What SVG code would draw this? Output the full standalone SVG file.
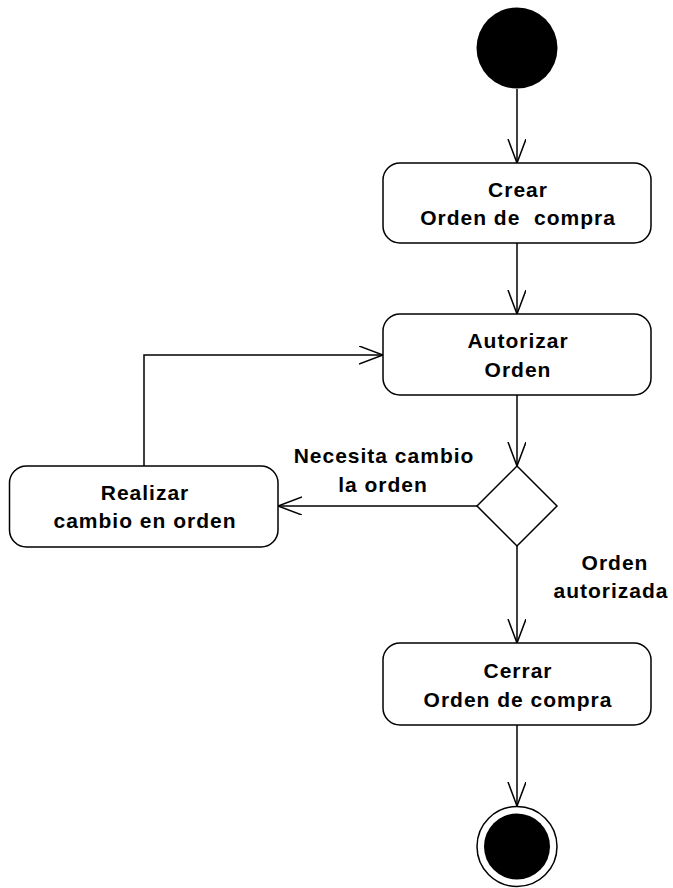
<svg xmlns="http://www.w3.org/2000/svg" width="673" height="888" viewBox="0 0 673 888">
<style>
.node{fill:#fff;stroke:#000;stroke-width:1.5}
.lbl{font-family:"Liberation Sans",Arial,sans-serif;font-weight:bold;font-size:21px;fill:#000;text-anchor:middle;letter-spacing:1px}
.edge{fill:none;stroke:#000;stroke-width:1.5}
</style>
<defs>
<marker id="arr" markerUnits="userSpaceOnUse" markerWidth="26" markerHeight="20" refX="24" refY="9" orient="auto">
<path d="M0,0 L24,9 L0,18" fill="none" stroke="#000" stroke-width="1.5"/>
</marker>
</defs>
<rect width="673" height="888" fill="#fff"/>
<g id="connectors">
<path class="edge" d="M517,89 V163" marker-end="url(#arr)"/>
<path class="edge" d="M517,243 V314" marker-end="url(#arr)"/>
<path class="edge" d="M517,395 V466" marker-end="url(#arr)"/>
<path class="edge" d="M477,506 H278" marker-end="url(#arr)"/>
<path class="edge" d="M144,466 V355 H383" marker-end="url(#arr)"/>
<path class="edge" d="M517,546 V643" marker-end="url(#arr)"/>
<path class="edge" d="M517,725 V806" marker-end="url(#arr)"/>
<text class="lbl" x="384" y="463">Necesita cambio</text>
<text class="lbl" x="383" y="492">la orden</text>
<text class="lbl" x="615" y="570">Orden</text>
<text class="lbl" x="611" y="598">autorizada</text>
</g>
<g id="start">
<circle cx="517" cy="48" r="40.5" fill="#000"/>
</g>
<g id="crear">
<rect class="node" x="383" y="163" width="268" height="80" rx="17" ry="17"/>
<text class="lbl" x="518" y="197">Crear</text>
<text class="lbl" x="518" y="225" xml:space="preserve">Orden de  compra</text>
</g>
<g id="autorizar">
<rect class="node" x="383" y="314" width="268" height="81" rx="17" ry="17"/>
<text class="lbl" x="518" y="348">Autorizar</text>
<text class="lbl" x="518" y="377">Orden</text>
</g>
<g id="decision">
<polygon class="node" points="517,466 557,506 517,546 477,506"/>
</g>
<g id="realizar">
<rect class="node" x="9.5" y="466" width="268.5" height="81" rx="17" ry="17"/>
<text class="lbl" x="145" y="500">Realizar</text>
<text class="lbl" x="145" y="528">cambio en orden</text>
</g>
<g id="cerrar">
<rect class="node" x="383" y="643" width="268" height="82" rx="17" ry="17"/>
<text class="lbl" x="518" y="678">Cerrar</text>
<text class="lbl" x="518" y="707">Orden de compra</text>
</g>
<g id="end">
<circle cx="517" cy="846.5" r="40" fill="#fff" stroke="#000" stroke-width="1.5"/>
<circle cx="517" cy="846.5" r="33" fill="#000"/>
</g>
</svg>
